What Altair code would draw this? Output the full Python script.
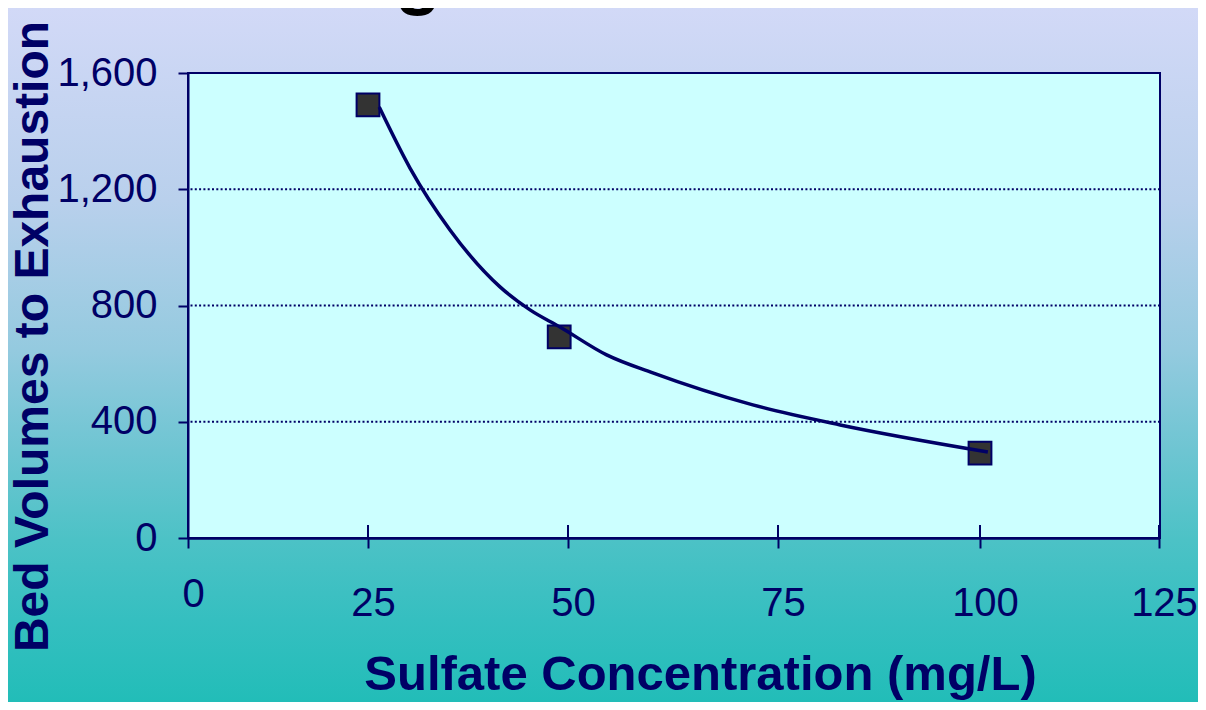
import altair as alt
import pandas as pd

# ---------------- data ----------------
chart_title = "Exchange Performance"
x_title = "Sulfate Concentration (mg/L)"
y_title = "Bed Volumes to Exhaustion"

sulfate = [25, 48.9, 100]
bed_volumes = [1490, 692, 292]

curve_sulfate = [26.4, 30.25, 35.25, 41.5, 45.25, 49.0, 54.6, 60.1, 72.0, 82.7, 101.1]
curve_bed_volumes = [1483, 1273, 1060, 864, 785, 726, 630, 568, 458, 389, 296]

x_ticks = [0, 25, 50, 75, 100, 125]
y_ticks = [0, 400, 800, 1200, 1600]
grid_values = [0, 400, 800, 1200]

# ---------------- styles ----------------
NAVY = "#000066"
FONT = "Liberation Sans"
W, H = 972, 465
PAD = {"left": 180, "top": 65, "right": 38, "bottom": 164}

# the reference's x axis is slightly irregular: piecewise scale
x_scale = alt.Scale(domain=x_ticks, range=[0, 180, 380, 590, 792, 971], nice=False, zero=False)
y_scale = alt.Scale(domain=[0, 1600], nice=False)

x_axis = alt.Axis(
    values=x_ticks, title=x_title, grid=False, zindex=1, format="d",
    domainColor=NAVY, domainWidth=2.5, tickColor=NAVY, tickWidth=2, tickSize=10,
    labelFont=FONT, labelFontSize=40, labelColor=NAVY, labelOffset=5,
    labelPadding={"condition": {"test": "datum.value == 0", "value": 26}, "value": 35},
    labelFlush=False, labelOverlap=False,
    titleFont=FONT, titleFontSize=49, titleFontWeight="bold", titleColor=NAVY,
    titleX=512, titleY=151, titleBaseline="alphabetic", titleAlign="center", titleAngle=0,
)
y_axis = alt.Axis(
    values=y_ticks, format=",.0f", title=y_title, grid=False, zindex=1,
    domainColor=NAVY, domainWidth=2, tickColor=NAVY, tickWidth=2, tickSize=10,
    labelFont=FONT, labelFontSize=40, labelColor=NAVY, labelPadding=21,
    labelFlush=False, labelOverlap=False,
    titleFont=FONT, titleFontSize=48, titleFontWeight="bold", titleColor=NAVY,
    titleAngle=270, titleX=-141, titleY=263, titleBaseline="alphabetic", titleAlign="center",
)


def X(field):
    return alt.X(field, type="quantitative", scale=x_scale, axis=x_axis)


def Y(field):
    return alt.Y(field, type="quantitative", scale=y_scale, axis=y_axis)


one = alt.Data(values=[{"k": 1}])

gradient = alt.LinearGradient(
    gradient="linear", x1=0, x2=0, y1=0, y2=1,
    stops=[
        alt.GradientStop(offset=0.0, color="#D2D9F7"),
        alt.GradientStop(offset=0.277, color="#B9D0EC"),
        alt.GradientStop(offset=0.493, color="#94CADF"),
        alt.GradientStop(offset=0.637, color="#6EC5D2"),
        alt.GradientStop(offset=0.767, color="#4CC2C6"),
        alt.GradientStop(offset=0.882, color="#35BFC0"),
        alt.GradientStop(offset=1.0, color="#22BDB8"),
    ],
)

background = alt.Chart(one).mark_rect(fill=gradient).encode(
    x=alt.value(-PAD["left"]), x2=alt.value(W + PAD["right"]),
    y=alt.value(-PAD["top"]), y2=alt.value(H + PAD["bottom"]),
)

plot_area = alt.Chart(one).mark_rect(fill="#CCFFFF", stroke=NAVY, strokeWidth=2).encode(
    x=alt.value(0), x2=alt.value(W), y=alt.value(0), y2=alt.value(H),
)

grid = alt.Chart(pd.DataFrame({"g": grid_values})).mark_rule(
    color=NAVY, strokeWidth=2, strokeDash=[2, 2.3]
).encode(y=Y("g"))

inner_ticks = alt.Chart(pd.DataFrame({"t": x_ticks[1:]})).mark_rule(
    color=NAVY, strokeWidth=2
).encode(x=X("t"), y=alt.value(H - 13), y2=alt.value(H))

points = alt.Chart(pd.DataFrame({"x": sulfate, "y": bed_volumes})).mark_square(
    size=520, fill="#333333", stroke=NAVY, strokeWidth=2, opacity=1
).encode(x=X("x"), y=Y("y"))

curve = alt.Chart(pd.DataFrame({"x": curve_sulfate, "y": curve_bed_volumes})).mark_line(
    color=NAVY, strokeWidth=3.5, interpolate="monotone"
).encode(x=X("x"), y=Y("y"), order="x:Q")

title = alt.Chart(alt.Data(values=[{"t": chart_title}])).mark_text(
    font=FONT, fontSize=76, fontWeight="bold", color="black", align="center", baseline="alphabetic"
).encode(text="t:N", x=alt.value(359), y=alt.value(-73))

chart = alt.layer(background, plot_area, grid, inner_ticks, points, curve, title).properties(
    width=W, height=H, padding=PAD, autosize=alt.AutoSizeParams(type="none"),
).configure(font=FONT, background="#22BDB8").configure_view(stroke=None)

chart.save("out.html", embed_options={"renderer": "svg", "actions": False})
